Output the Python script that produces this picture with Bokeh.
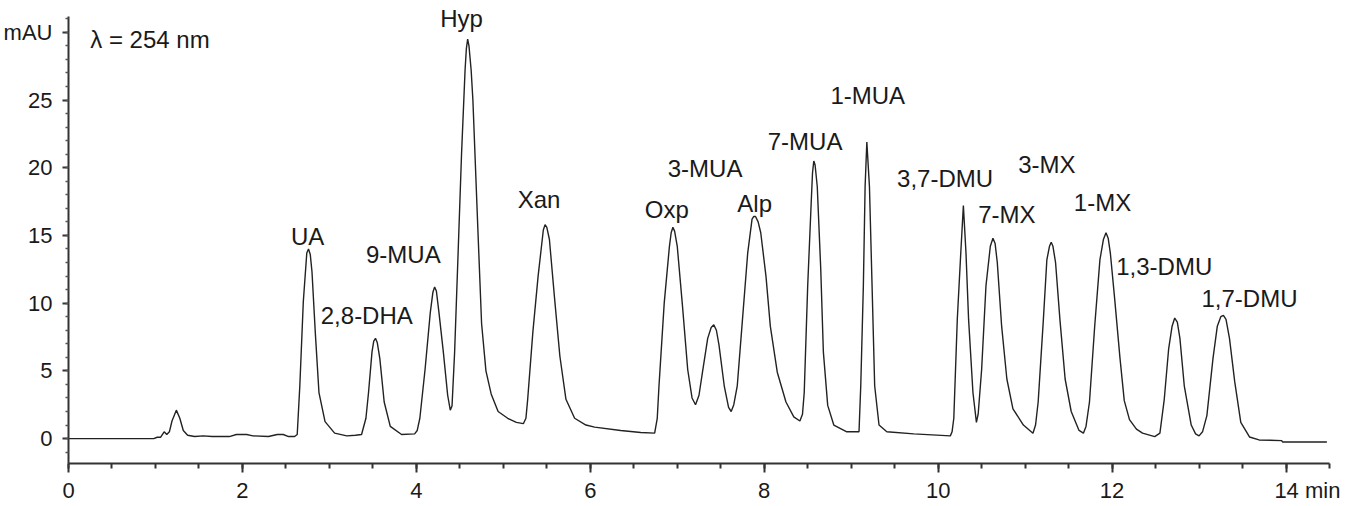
from bokeh.plotting import figure
from bokeh.models import FixedTicker, LabelSet, Label, ColumnDataSource, Range1d
from bokeh.core.properties import value
from bokeh.embed import file_html
from bokeh.resources import INLINE

# ---- data ----
time_min = [0.00, 0.98, 1.02, 1.06, 1.10, 1.13, 1.16, 1.19, 1.24, 1.28, 1.32, 1.37, 1.45, 1.55, 1.65,
            1.85, 1.93, 2.05, 2.12, 2.30, 2.40, 2.47, 2.53, 2.60, 2.63, 2.66, 2.70, 2.74, 2.76, 2.78,
            2.80, 2.84, 2.88, 2.95, 3.06, 3.20, 3.30, 3.37, 3.42, 3.45, 3.49, 3.51, 3.53, 3.55, 3.58,
            3.63, 3.70, 3.83, 3.98, 4.01, 4.04, 4.10, 4.16, 4.19, 4.21, 4.23, 4.26, 4.31, 4.36, 4.39,
            4.41, 4.44, 4.48, 4.52, 4.56, 4.575, 4.59, 4.605, 4.63, 4.65, 4.68, 4.71, 4.75, 4.80, 4.86,
            4.94, 5.05, 5.15, 5.23, 5.26, 5.28, 5.34, 5.40, 5.46, 5.48, 5.50, 5.53, 5.59, 5.65, 5.72,
            5.82, 5.95, 6.05, 6.35, 6.58, 6.74, 6.77, 6.79, 6.85, 6.91, 6.93, 6.95, 6.97, 7.00, 7.06,
            7.12, 7.17, 7.21, 7.25, 7.29, 7.35, 7.39, 7.42, 7.45, 7.48, 7.54, 7.59, 7.62, 7.65, 7.69,
            7.75, 7.81, 7.86, 7.88, 7.90, 7.93, 7.96, 8.02, 8.07, 8.15, 8.25, 8.34, 8.41, 8.44, 8.46,
            8.50, 8.54, 8.555, 8.57, 8.585, 8.61, 8.65, 8.68, 8.73, 8.80, 8.95, 9.09, 9.11, 9.14, 9.16,
            9.18, 9.21, 9.24, 9.27, 9.32, 9.41, 9.72, 10.14, 10.16, 10.18, 10.22, 10.26, 10.29, 10.32,
            10.35, 10.40, 10.44, 10.46, 10.50, 10.55, 10.60, 10.63, 10.655, 10.68, 10.73, 10.79, 10.86,
            10.98, 11.09, 11.12, 11.15, 11.21, 11.25, 11.28, 11.30, 11.32, 11.35, 11.40, 11.46, 11.53,
            11.62, 11.67, 11.70, 11.74, 11.80, 11.86, 11.90, 11.93, 11.955, 11.98, 12.03, 12.09, 12.14,
            12.20, 12.28, 12.35, 12.49, 12.55, 12.60, 12.65, 12.69, 12.72, 12.75, 12.78, 12.83, 12.91,
            12.96, 13.00, 13.04, 13.09, 13.16, 13.21, 13.25, 13.28, 13.31, 13.35, 13.41, 13.48, 13.58,
            13.69, 13.95, 13.96, 14.47]
absorbance_mAU = [0.0, 0.0, 0.1, 0.1, 0.5, 0.3, 0.5, 1.3, 2.1, 1.5, 0.6, 0.25, 0.15, 0.2, 0.15,
                  0.15, 0.3, 0.3, 0.2, 0.15, 0.3, 0.3, 0.15, 0.15, 0.3, 3.9, 10.1, 13.7, 14.0, 13.6,
                  12.3, 7.6, 3.4, 1.25, 0.4, 0.2, 0.25, 0.3, 1.5, 3.4, 6.4, 7.2, 7.4, 7.1, 5.9,
                  2.7, 0.9, 0.3, 0.35, 0.6, 1.5, 5.1, 9.3, 10.8, 11.2, 10.9, 9.3, 6.4, 3.2, 2.1,
                  2.4, 6.4, 13.7, 21.1, 27.2, 28.8, 29.5, 29.0, 27.2, 25.0, 20.0, 15.0, 8.5, 5.0, 3.3,
                  2.0, 1.5, 1.2, 1.1, 1.5, 2.9, 7.9, 12.0, 15.4, 15.8, 15.6, 14.7, 10.3, 6.1, 2.9,
                  1.5, 1.0, 0.85, 0.6, 0.45, 0.4, 1.5, 3.9, 10.0, 14.2, 15.2, 15.6, 15.3, 14.2, 9.8,
                  5.1, 3.0, 2.5, 3.2, 4.9, 7.4, 8.2, 8.4, 8.0, 6.9, 3.9, 2.3, 2.0, 2.5, 3.9,
                  8.8, 13.7, 16.2, 16.4, 16.4, 16.0, 15.2, 12.0, 8.3, 4.9, 2.7, 1.6, 1.3, 1.8, 3.4,
                  11.3, 17.4, 19.6, 20.5, 20.2, 18.6, 12.5, 6.4, 2.45, 1.0, 0.5, 0.5, 3.9, 11.3, 18.6,
                  21.9, 18.6, 11.3, 3.9, 1.0, 0.5, 0.35, 0.2, 0.5, 1.5, 8.8, 13.7, 17.2, 13.7,
                  8.8, 3.4, 1.2, 1.8, 5.1, 11.3, 14.2, 14.8, 14.4, 13.0, 8.3, 4.4, 2.2,
                  1.0, 0.4, 1.0, 2.7, 8.8, 13.2, 14.2, 14.5, 14.2, 13.0, 8.8, 4.4, 2.0,
                  0.6, 0.4, 0.9, 2.7, 8.3, 13.2, 14.7, 15.2, 14.8, 13.7, 10.3, 6.0, 2.8,
                  1.4, 0.7, 0.4, 0.15, 0.4, 2.9, 6.6, 8.3, 8.9, 8.6, 7.4, 3.9, 1.0,
                  0.35, 0.2, 0.5, 1.7, 5.9, 8.3, 9.0, 9.1, 8.8, 7.4, 4.2, 1.2, 0.12,
                  -0.1, -0.15, -0.25, -0.25]

peak_names = ["UA", "2,8-DHA", "9-MUA", "Hyp", "Xan", "Oxp", "3-MUA", "Alp", "7-MUA", "1-MUA",
              "3,7-DMU", "7-MX", "3-MX", "1-MX", "1,3-DMU", "1,7-DMU"]
label_time = [2.75, 3.43, 3.85, 4.52, 5.41, 6.88, 7.32, 7.89, 8.47, 9.19,
              10.08, 10.79, 11.25, 11.89, 12.60, 13.58]
label_mAU = [14.3, 8.45, 13.0, 30.4, 17.0, 16.3, 19.3, 16.7, 21.3, 24.7,
             18.6, 15.9, 19.6, 16.8, 12.05, 9.7]

x_major_ticks = [0, 2, 4, 6, 8, 10, 12, 14]
x_tick_labels = {14: "\u00a0" * 7 + "14 min"}
y_major_ticks = [0, 5, 10, 15, 20, 25, 30]
y_tick_labels = {30: "mAU"}

FONT = "Liberation Sans"
INK = "#1a1a1a"

p = figure(width=1345, height=505, output_backend="svg", toolbar_location=None,
           x_range=Range1d(0, 14.5), y_range=Range1d(-1.84, 32.35),
           min_border_left=66, min_border_right=16, min_border_top=0, min_border_bottom=40)
p.outline_line_color = None
p.grid.visible = False
p.background_fill_color = "white"

p.line(time_min, absorbance_mAU, line_color="#222222", line_width=1.4)

src = ColumnDataSource(dict(x=label_time, y=label_mAU, t=peak_names))
p.add_layout(LabelSet(x="x", y="y", text="t", source=src, text_align="center",
                      text_baseline="alphabetic", text_font=value(FONT),
                      text_font_size=value("24px"), text_color=INK))

p.add_layout(Label(x=0.25, y=29.5, text="\u03bb = 254 nm", text_font=FONT,
                   text_font_size="24px", text_color=INK, text_baseline="alphabetic"))

# x axis
xa = p.xaxis[0]
xa.ticker = FixedTicker(ticks=x_major_ticks, minor_ticks=[i * 0.5 for i in range(30)])
xa.bounds = (0, 14.5)
xa.major_label_overrides = x_tick_labels
xa.axis_line_color = "#333333"
xa.axis_line_width = 2
xa.major_tick_line_color = "#333333"
xa.major_tick_line_width = 2
xa.minor_tick_line_color = "#333333"
xa.minor_tick_line_width = 2
xa.major_tick_in = 0
xa.major_tick_out = 9
xa.minor_tick_in = 0
xa.minor_tick_out = 5
xa.major_label_text_font = FONT
xa.major_label_text_font_size = "22px"
xa.major_label_text_color = INK
xa.major_label_standoff = 5

# y axis
ya = p.yaxis[0]
ya.ticker = FixedTicker(ticks=y_major_ticks, minor_ticks=list(range(-1, 32)))
ya.bounds = (-1.84, 31.2)
ya.major_label_overrides = y_tick_labels
ya.axis_line_color = "#333333"
ya.axis_line_width = 2
ya.major_tick_line_color = "#333333"
ya.major_tick_line_width = 2
ya.minor_tick_line_color = "#555555"
ya.minor_tick_line_width = 1.5
ya.major_tick_in = 0
ya.major_tick_out = 6
ya.minor_tick_in = 0
ya.minor_tick_out = 3
ya.major_label_text_font = FONT
ya.major_label_text_font_size = "22px"
ya.major_label_text_color = INK
ya.major_label_standoff = 10

open("out.html", "w").write(file_html(p, INLINE))
